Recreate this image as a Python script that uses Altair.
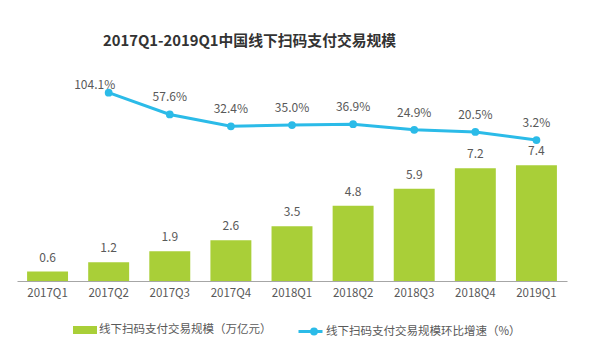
import altair as alt
import pandas as pd

quarters = ["2017Q1", "2017Q2", "2017Q3", "2017Q4", "2018Q1", "2018Q2", "2018Q3", "2018Q4", "2019Q1"]
volume = [0.6, 1.2, 1.9, 2.6, 3.5, 4.8, 5.9, 7.2, 7.4]
growth = [None, 104.1, 57.6, 32.4, 35.0, 36.9, 24.9, 20.5, 3.2]
bar_name = "线下扫码支付交易规模（万亿元）"
line_name = "线下扫码支付交易规模环比增速（%）"
title_text = "2017Q1-2019Q1中国线下扫码支付交易规模"

FONT = "Noto Sans CJK SC"
GREEN = "#a9cf38"
CYAN = "#2bbbe8"
TXT = "#595959"

df = pd.DataFrame({"q": quarters, "v": volume, "g": growth})
df["bar_s"] = bar_name
df["line_s"] = line_name

x = alt.X("q:N", sort=quarters, title=None,
          scale=alt.Scale(paddingInner=0.33, paddingOuter=0.165),
          axis=alt.Axis(labelAngle=0, ticks=False, domainColor="#a6a6a6", domainWidth=1.2,
                        labelColor=TXT, labelFont=FONT, labelFontSize=11.5, labelPadding=6, grid=False))

ybar = alt.Y("v:Q", axis=None, scale=alt.Scale(domain=[0, 12.84], nice=False, zero=True))
yline = alt.Y("g:Q", axis=None, scale=alt.Scale(domain=[-297, 131], nice=False, zero=False))

base = alt.Chart(df)

bars = base.mark_bar().encode(
    x=x, y=ybar,
    fill=alt.Fill("bar_s:N", title=None,
                  scale=alt.Scale(domain=[bar_name], range=[GREEN]),
                  legend=alt.Legend(orient="none", legendX=60, legendY=242, padding=0,
                                    symbolType="M-1.5,-0.5H1.5V0.5H-1.5Z", symbolSize=256,
                                    symbolStrokeWidth=0, labelOffset=6, labelLimit=0,
                                    labelFont=FONT, labelFontSize=11.5, labelColor=TXT)),
)
bar_text = base.mark_text(dy=-14, font=FONT, fontSize=12, color=TXT).encode(
    x=alt.X("q:N", sort=quarters), y=ybar, text=alt.Text("v:Q", format=".1f"))

bar_layer = alt.layer(bars, bar_text)

ldf = base.transform_filter("datum.g != null").transform_calculate(
    lab="format(datum.g, '.1f') + '%'")

line = ldf.mark_line(strokeWidth=3).encode(
    x=alt.X("q:N", sort=quarters), y=yline,
    stroke=alt.Stroke("line_s:N", title=None,
                      scale=alt.Scale(domain=[line_name], range=[CYAN]),
                      legend=alt.Legend(orient="none", legendX=284, legendY=242, padding=0,
                                        symbolType="M-1.5,0H1.5M0.74,0A0.3,0.3,0,1,1,0.14,0A0.3,0.3,0,1,1,0.74,0Z",
                                        symbolSize=256, symbolStrokeWidth=3, labelOffset=6, labelLimit=0,
                                        labelFont=FONT, labelFontSize=11.5, labelColor=TXT)),
)
pts = ldf.mark_point(filled=True, size=60, opacity=1, color=CYAN).encode(
    x=alt.X("q:N", sort=quarters), y=yline)
line_text = ldf.transform_filter("datum.q != '2017Q2'").mark_text(
    dy=-17, font=FONT, fontSize=12, color=TXT).encode(
    x=alt.X("q:N", sort=quarters), y=yline, text="lab:N")
first_text = ldf.transform_filter("datum.q == '2017Q2'").mark_text(
    dx=-14, dy=-8, font=FONT, fontSize=12, color=TXT).encode(
    x=alt.X("q:N", sort=quarters), y=yline, text="lab:N")

line_layer = alt.layer(line, pts, line_text, first_text)

chart = alt.layer(bar_layer, line_layer).resolve_scale(y="independent").properties(
    width=550, height=201,
    padding={"left": 17, "top": 80, "right": 33, "bottom": 70},
    autosize=alt.AutoSizeParams(type="none"),
    title=alt.TitleParams(title_text, anchor="start", dx=86, offset=30, font=FONT,
                          fontSize=14.8, fontWeight="bold", color="#333333"),
    background="white",
).configure_view(stroke=None)

chart.save("out.html", embed_options={"renderer": "svg", "actions": False})
